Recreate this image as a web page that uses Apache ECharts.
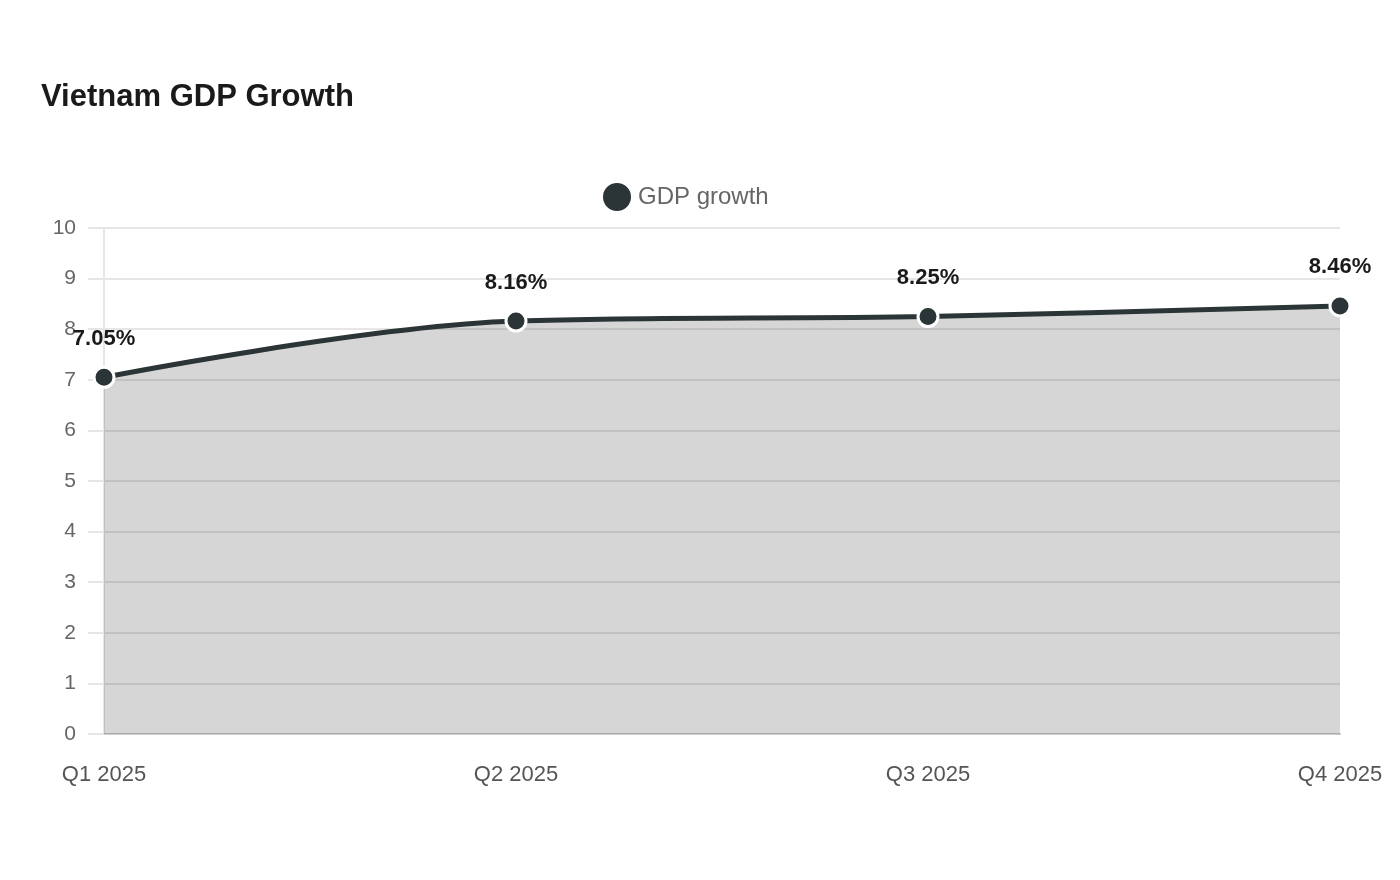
<!DOCTYPE html>
<html>
<head>
<meta charset="utf-8">
<script src="https://cdn.jsdelivr.net/npm/echarts@6/dist/echarts.min.js"></script>
<style>
html,body{margin:0;padding:0;background:#fff;}
#chart{width:1400px;height:880px;}
</style>
</head>
<body>
<div id="chart"></div>
<script>
var quarters = ['Q1 2025', 'Q2 2025', 'Q3 2025', 'Q4 2025'];
var growth = [7.05, 8.16, 8.25, 8.46];
var yTicks = [0, 10, 1]; // min, max, interval

var lineColor = '#2b3436';
var chart = echarts.init(document.getElementById('chart'));

var option = {
    animation: false,
    textStyle: { fontFamily: '"Liberation Sans", Arial, sans-serif' },
    title: {
        text: 'Vietnam GDP Growth',
        left: 36,
        top: 77,
        textStyle: { fontSize: 31, fontWeight: 'bold', color: '#1a1a1a' }
    },
    legend: {
        top: 176,
        left: 596,
        icon: 'circle',
        itemWidth: 32,
        itemHeight: 30,
        itemGap: 10,
        textStyle: { fontSize: 24, color: '#666' },
        data: ['GDP growth']
    },
    grid: { left: 104, right: 60, top: 228, bottom: 146 },
    xAxis: {
        type: 'category',
        boundaryGap: false,
        data: quarters,
        axisLine: { lineStyle: { color: '#ccc', width: 2 } },
        axisTick: { show: false },
        axisLabel: { fontSize: 22, color: '#555', margin: 30 }
    },
    yAxis: {
        type: 'value',
        min: yTicks[0],
        max: yTicks[1],
        interval: yTicks[2],
        axisLine: { show: true, lineStyle: { color: '#e6e6e6', width: 2 } },
        axisTick: { show: true, inside: false, length: 16, lineStyle: { color: '#e6e6e6', width: 2 } },
        axisLabel: { fontSize: 21, color: '#666', margin: 28 },
        splitLine: { lineStyle: { color: '#e6e6e6', width: 2 } }
    },
    series: [{
        name: 'GDP growth',
        type: 'line',
        smooth: 0.35,
        data: growth,
        symbol: 'circle',
        symbolSize: 20,
        color: lineColor,
        lineStyle: { width: 5, color: lineColor },
        itemStyle: { color: lineColor, borderColor: '#fff', borderWidth: 3 },
        areaStyle: { color: 'rgba(0,0,0,0.16)', opacity: 1 },
        label: {
            show: true,
            position: 'top',
            distance: 16,
            fontSize: 22,
            fontWeight: 'bold',
            color: '#1a1a1a',
            formatter: function (p) { return p.value.toFixed(2) + '%'; }
        }
    }]
};

chart.setOption(option);
</script>
</body>
</html>
